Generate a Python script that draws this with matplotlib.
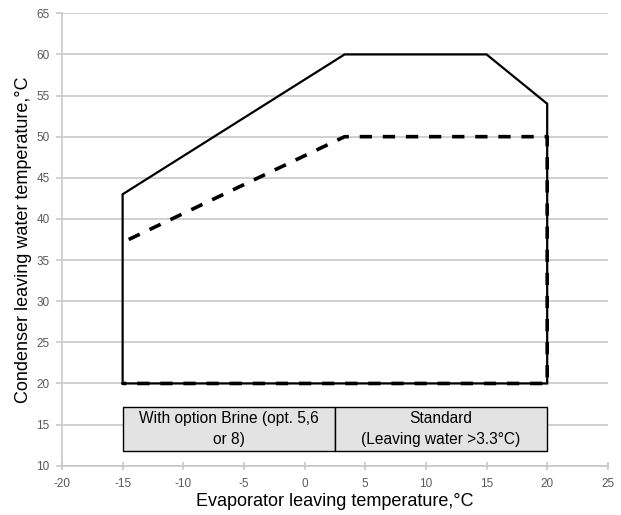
"""
Operating envelope: condenser vs evaporator leaving water temperature.
"""
import matplotlib.pyplot as plt
from matplotlib.patches import Rectangle

# envelope outlines (evaporator temp, condenser temp)
SOLID_X = [-15, -15, 3.3, 15, 20, 20, -15]
SOLID_Y = [20, 43, 60, 60, 54, 20, 20]
DASHED_X = [-14.5, 3.3, 20, 20, -15]
DASHED_Y = [37.5, 50, 50, 20, 20]

# option boxes below the envelope
BOX_EDGES = [-15, 2.5, 20]
BOX_BOTTOM, BOX_TOP = 11.8, 17.1
BOX_LABELS = ["With option Brine (opt. 5,6\nor 8)",
              "Standard\n(Leaving water >3.3°C)"]

X_TICKS = list(range(-20, 30, 5))
Y_TICKS = list(range(10, 70, 5))

GRID = "#c8c8c8"
TICK_TEXT = "#595959"

plt.rcParams["font.family"] = ["Liberation Sans", "DejaVu Sans"]
plt.rcParams["axes.unicode_minus"] = False

fig = plt.figure(figsize=(6.21, 5.15), dpi=100)
ax = fig.add_axes([0.0998, 0.0957, 0.879, 0.8785])

ax.set_xlim(-20, 25)
ax.set_ylim(10, 65)
ax.set_xticks(X_TICKS)
ax.set_yticks(Y_TICKS)
ax.grid(axis="y", color=GRID, linewidth=1.2)
ax.set_axisbelow(True)
for side in ("top", "right"):
    ax.spines[side].set_visible(False)
for side in ("left", "bottom"):
    ax.spines[side].set_color(GRID)
    ax.spines[side].set_linewidth(1.2)
ax.tick_params(axis="y", length=4, width=1.2, color=GRID,
               labelsize=8.5, labelcolor=TICK_TEXT, pad=5)
ax.tick_params(axis="x", direction="inout", length=6, width=1.2,
               color=GRID, labelsize=8.5, labelcolor=TICK_TEXT, pad=6)

ax.plot(SOLID_X, SOLID_Y, color="black", linewidth=1.6,
        solid_joinstyle="miter", clip_on=False)
ax.plot(DASHED_X, DASHED_Y, color="black", linewidth=2.6,
        dashes=(3.4, 3.0), clip_on=False)

for left, right, label in zip(BOX_EDGES[:-1], BOX_EDGES[1:], BOX_LABELS):
    ax.add_patch(Rectangle((left, BOX_BOTTOM), right - left,
                           BOX_TOP - BOX_BOTTOM, facecolor="#e3e3e3",
                           edgecolor="black", linewidth=1.0, zorder=3))
    ax.text((left + right) / 2, (BOX_BOTTOM + BOX_TOP) / 2, label,
            ha="center", va="center", fontsize=11.2, zorder=4,
            linespacing=1.45)

ax.set_xlabel("Evaporator leaving temperature,°C", fontsize=13,
              labelpad=2)
ax.set_ylabel("Condenser leaving water temperature,°C", fontsize=13,
              labelpad=3)

fig.savefig("out.png", dpi=100)
